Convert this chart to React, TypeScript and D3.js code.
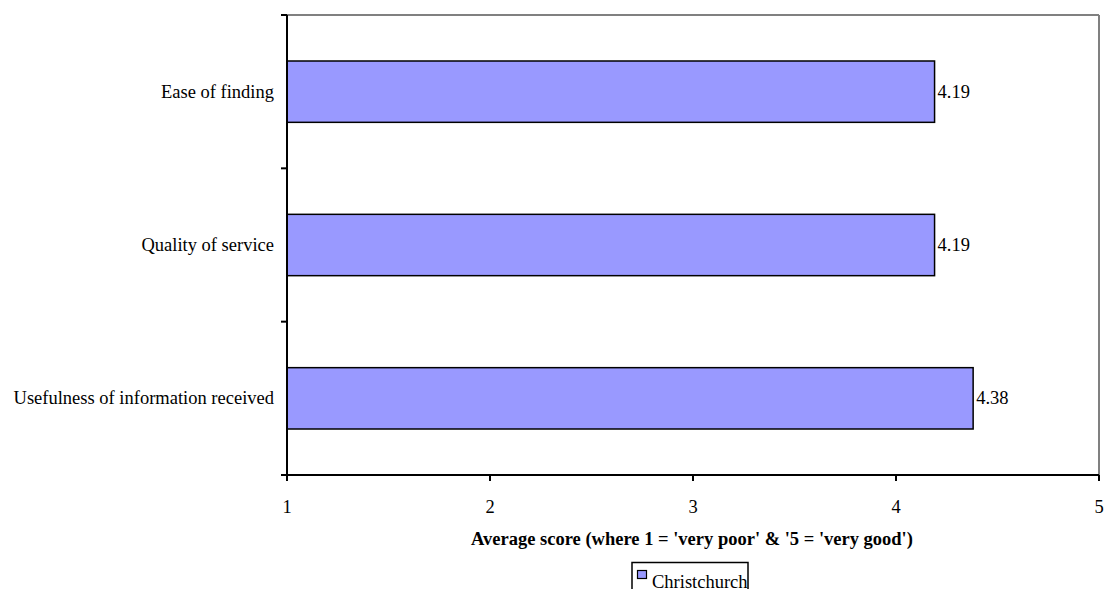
import React from "react";
import * as d3 from "d3";

const categories = ["Ease of finding", "Quality of service", "Usefulness of information received"];
const values = [4.19, 4.19, 4.38];
const xTicks = [1, 2, 3, 4, 5];
const seriesName = "Christchurch";
const axisTitle = "Average score (where 1 = 'very poor' & '5 = 'very good')";

export default function App() {
  const W = 1106, H = 589;
  const left = 287, right = 1099, top = 15, bottom = 475;
  const x = d3.scaleLinear().domain([1, 5]).range([left, right]);
  const y = d3.scaleBand().domain(categories).range([top, bottom]).paddingInner(0.6).paddingOuter(0.3);
  const band = (bottom - top) / categories.length;
  const font = "'Liberation Serif', 'Times New Roman', serif";
  const fs = 18.5;
  return (
    <svg width={W} height={H} style={{ position: "absolute", left: 0, top: 0, fontFamily: font }}>
      <rect x={0} y={0} width={W} height={H} fill="#fff" />
      <line x1={left} x2={right} y1={top} y2={top} stroke="#808080" strokeWidth={2} />
      <line x1={right} x2={right} y1={top} y2={bottom} stroke="#808080" strokeWidth={2} />
      {categories.map((c, i) => (
        <g key={c}>
          <rect x={x(1)} y={y(c)!} width={x(values[i]) - x(1)} height={y.bandwidth()} fill="#9999FF" stroke="#000" strokeWidth={1.5} />
          <text x={x(values[i]) + 3} y={y(c)! + y.bandwidth() / 2} dominantBaseline="central" fontSize={fs}>{values[i].toFixed(2)}</text>
          <text x={left - 13} y={y(c)! + y.bandwidth() / 2} dominantBaseline="central" textAnchor="end" fontSize={fs}>{c}</text>
        </g>
      ))}
      <line x1={left} x2={left} y1={top} y2={bottom} stroke="#000" strokeWidth={2} />
      {d3.range(categories.length + 1).map((i) => (
        <line key={i} x1={left - 6} x2={left} y1={top + i * band} y2={top + i * band} stroke="#000" strokeWidth={2} />
      ))}
      <line x1={left} x2={right} y1={bottom} y2={bottom} stroke="#000" strokeWidth={2} />
      {xTicks.map((t) => (
        <g key={t}>
          <line x1={x(t)} x2={x(t)} y1={bottom} y2={bottom + 6} stroke="#000" strokeWidth={2} />
          <text x={x(t)} y={507} textAnchor="middle" dominantBaseline="central" fontSize={fs}>{t}</text>
        </g>
      ))}
      <text x={(left + right) / 2 - 1} y={539} textAnchor="middle" dominantBaseline="central" fontSize={fs} fontWeight="bold">{axisTitle}</text>
      <rect x={632} y={562.5} width={116} height={32} fill="#fff" stroke="#000" strokeWidth={1.5} />
      <rect x={637.5} y={570.5} width={9} height={8} fill="#9999FF" stroke="#000" strokeWidth={1.2} />
      <text x={652} y={588} fontSize={fs}>{seriesName}</text>
    </svg>
  );
}
